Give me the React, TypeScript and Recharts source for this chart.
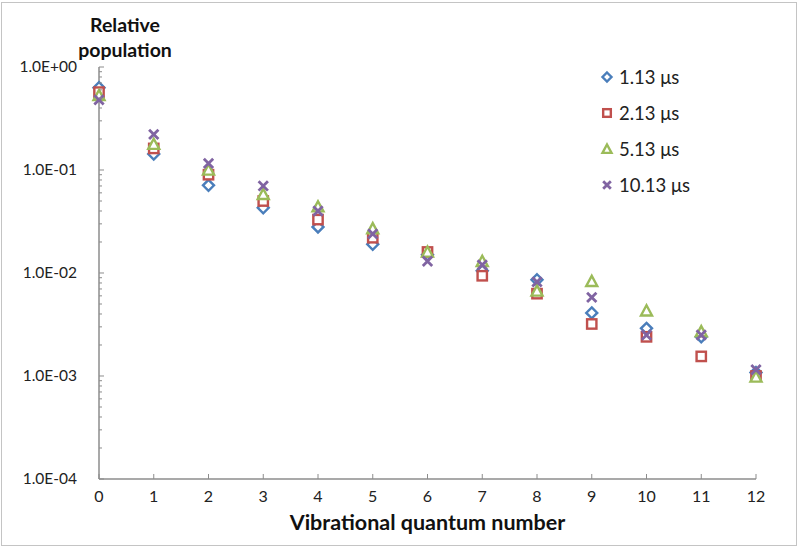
import { ScatterChart, Scatter, XAxis, YAxis } from "recharts";

const FONT = "Lato, 'Open Sans', sans-serif";
const BLUE = "#4a7ebb", RED = "#c0504d", GREEN = "#9bbb59", PURPLE = "#8064a2", AXIS = "#8c8c8c";

// vibrational levels 0..12
const levels = [0, 1, 2, 3, 4, 5, 6, 7, 8, 9, 10, 11, 12];
const pop113 = [0.63, 0.143, 0.071, 0.043, 0.028, 0.019, 0.015, 0.0105, 0.0086, 0.0041, 0.0029, 0.0024, 0.00108];
const pop213 = [0.57, 0.162, 0.09, 0.05, 0.033, 0.022, 0.016, 0.0094, 0.0063, 0.0032, 0.0024, 0.00155, 0.001];
const pop513 = [0.53, 0.178, 0.1, 0.058, 0.044, 0.027, 0.016, 0.013, 0.0067, 0.0083, 0.0043, 0.0027, 0.00098];
const pop1013 = [0.48, 0.222, 0.116, 0.07, 0.04, 0.024, 0.013, 0.012, 0.0082, 0.0058, 0.0025, 0.0025, 0.00115];

const xTicks = levels;
const yMajor = [1e-4, 1e-3, 1e-2, 1e-1, 1];
const yMinor = [1e-4, 1e-3, 1e-2, 1e-1].flatMap((d) => [2, 3, 4, 5, 6, 7, 8, 9].map((m) => +(d * m).toPrecision(3)));
const yTicks = [...yMajor, ...yMinor].sort((a, b) => a - b);

const series = [
  { name: "1.13 μs", vals: pop113, color: BLUE, kind: "diamond" },
  { name: "2.13 μs", vals: pop213, color: RED, kind: "square" },
  { name: "5.13 μs", vals: pop513, color: GREEN, kind: "triangle" },
  { name: "10.13 μs", vals: pop1013, color: PURPLE, kind: "cross" },
];

function Marker({ kind, color, cx, cy, r = 5.5 }: { kind: string; color: string; cx: number; cy: number; r?: number }) {
  const sw = 2.4;
  const h = r * 0.85;
  if (kind === "diamond") return <path d={`M${cx},${cy - r}L${cx + r},${cy}L${cx},${cy + r}L${cx - r},${cy}Z`} fill="#fff" stroke={color} strokeWidth={sw} />;
  if (kind === "square") return <rect x={cx - h} y={cy - h} width={2 * h} height={2 * h} fill="#fff" stroke={color} strokeWidth={sw} />;
  if (kind === "triangle") return <path d={`M${cx},${cy - r}L${cx + r},${cy + h}L${cx - r},${cy + h}Z`} fill="#fff" stroke={color} strokeWidth={sw} />;
  return <path d={`M${cx - h},${cy - h}L${cx + h},${cy + h}M${cx + h},${cy - h}L${cx - h},${cy + h}`} stroke={color} strokeWidth={2.8} />;
}

function fmtExp(v: number) {
  const e = Math.round(Math.log10(v));
  return "1.0E" + (e < 0 ? "-" : "+") + String(Math.abs(e)).padStart(2, "0");
}

function YTick(p: any) {
  const v = p.payload.value;
  const major = yMajor.some((m) => Math.abs(m - v) / m < 1e-6);
  return (
    <g>
      <line x1={p.x} x2={p.x + (major ? 5 : 3)} y1={p.y} y2={p.y} stroke={AXIS} strokeWidth={1} />
      {major && <text x={p.x - 22} y={p.y + 5} textAnchor="end" fontSize={15.5} fill="#222" fontFamily={FONT}>{fmtExp(v)}</text>}
    </g>
  );
}

function XTick(p: any) {
  return (
    <g>
      <line x1={p.x} x2={p.x} y1={p.y - 5} y2={p.y} stroke={AXIS} strokeWidth={1} />
      <text x={p.x} y={p.y + 23} textAnchor="middle" fontSize={16} fill="#222" fontFamily={FONT}>{p.payload.value}</text>
    </g>
  );
}

export default function App() {
  return (
    <div style={{ position: "absolute", left: 0, top: 0, width: 806, height: 548, background: "#fff", fontFamily: FONT }}>
      <div style={{ position: "absolute", left: 1, top: 2, width: 794, height: 542, border: "1px solid #c4c4c4" }} />
      <div style={{ position: "absolute", left: 45, top: 12, width: 160, textAlign: "center", fontWeight: 700, fontSize: 19.5, lineHeight: "25px", color: "#111" }}>
        Relative<br />population
      </div>
      <div style={{ position: "absolute", left: 99, top: 509, width: 657, textAlign: "center", fontWeight: 700, fontSize: 21.5, color: "#111" }}>
        Vibrational quantum number
      </div>
      <div style={{ position: "absolute", left: 600, top: 59 }}>
        {series.map((s) => (
          <div key={s.name} style={{ display: "flex", alignItems: "center", height: 36, fontSize: 18.5, color: "#222" }}>
            <svg width={14} height={14} style={{ marginRight: 5 }}>
              <Marker kind={s.kind} color={s.color} cx={7} cy={7} r={4.5} />
            </svg>
            {s.name}
          </div>
        ))}
      </div>
      <div style={{ position: "absolute", left: 0, top: 0 }}>
        <ScatterChart width={806} height={548} margin={{ top: 67, right: 50, bottom: 69, left: 0 }}>
          <XAxis dataKey="v" type="number" domain={[0, 12]} ticks={xTicks} interval={0} height={0.001}
            axisLine={{ stroke: AXIS, strokeWidth: 1.5 }} tickLine={false} tickSize={0} tickMargin={0} tick={<XTick />} />
          <YAxis dataKey="p" type="number" scale="log" domain={[1e-4, 1]} ticks={yTicks} interval={0} width={99} allowDataOverflow
            axisLine={{ stroke: AXIS, strokeWidth: 1.5 }} tickLine={false} tickSize={0} tickMargin={0} tick={<YTick />} />
          {series.map((s) => (
            <Scatter key={s.name} name={s.name} data={levels.map((v, i) => ({ v, p: s.vals[i] }))} isAnimationActive={false}
              shape={(pp: any) => <Marker kind={s.kind} color={s.color} cx={pp.cx} cy={pp.cy} />} />
          ))}
        </ScatterChart>
      </div>
    </div>
  );
}
